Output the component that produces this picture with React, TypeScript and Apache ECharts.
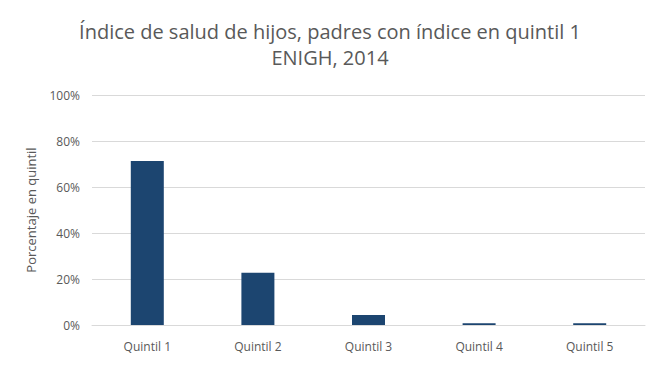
import React, { useEffect, useRef } from "react";
import * as echarts from "echarts";

const categories = ["Quintil 1", "Quintil 2", "Quintil 3", "Quintil 4", "Quintil 5"];
const values = [71.3, 22.7, 4.4, 0.8, 0.8];
const titleLines = ["Índice de salud de hijos, padres con índice en quintil 1", "ENIGH, 2014"];
const yAxisName = "Porcentaje en quintil";

export default function App() {
  const ref = useRef<HTMLDivElement>(null);
  useEffect(() => {
    if (!ref.current) return;
    const chart = echarts.init(ref.current, undefined, { renderer: "svg" });
    chart.setOption({
      animation: false,
      backgroundColor: "#ffffff",
      title: {
        text: titleLines.join("\n"),
        left: "center",
        top: 13,
        textStyle: {
          fontFamily: "Open Sans",
          fontSize: 20,
          fontWeight: "normal",
          color: "#595959",
          lineHeight: 26,
        },
      },
      grid: { left: 92, right: 15, top: 95, bottom: 40 },
      xAxis: {
        type: "category",
        data: categories,
        axisLine: { lineStyle: { color: "#d9d9d9" } },
        axisTick: { show: false },
        axisLabel: { color: "#595959", fontSize: 12, fontFamily: "Open Sans", margin: 15 },
      },
      yAxis: {
        type: "value",
        min: 0,
        max: 100,
        interval: 20,
        name: yAxisName,
        nameLocation: "middle",
        nameGap: 55,
        nameTextStyle: { color: "#595959", fontSize: 13, fontFamily: "Open Sans" },
        axisLabel: { formatter: "{value}%", color: "#595959", fontSize: 12, fontFamily: "Open Sans", margin: 12 },
        splitLine: { lineStyle: { color: "#d9d9d9" } },
        axisLine: { show: false },
        axisTick: { show: false },
      },
      series: [
        {
          type: "bar",
          data: values,
          barWidth: 33,
          itemStyle: { color: "#1c4570" },
        },
      ],
    });
    return () => chart.dispose();
  }, []);
  return <div ref={ref} style={{ width: 660, height: 365, position: "absolute", left: 0, top: 0 }} />;
}
